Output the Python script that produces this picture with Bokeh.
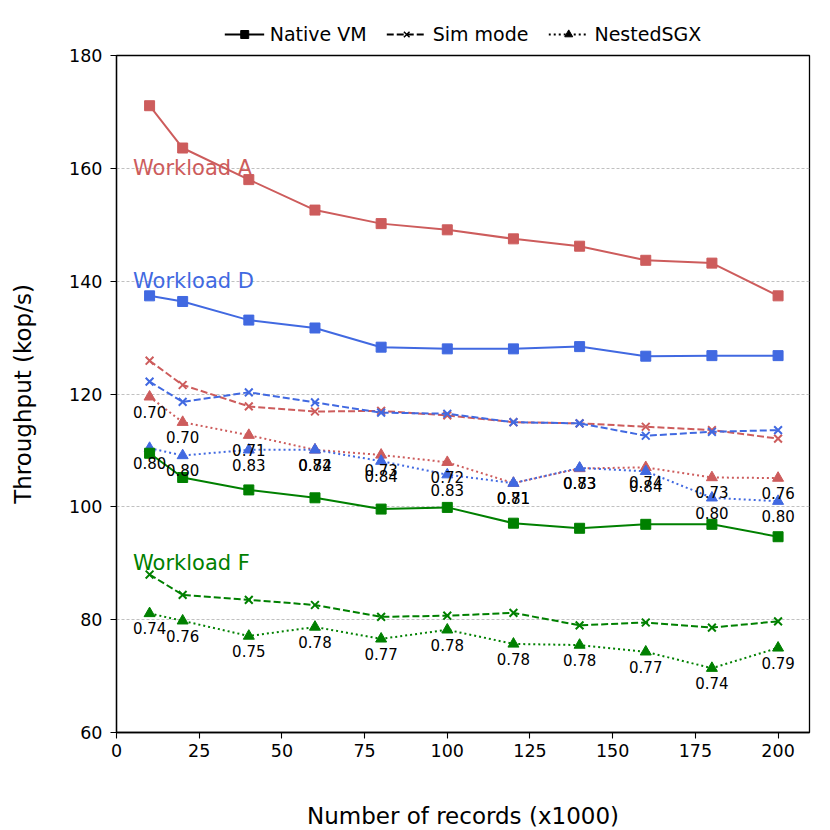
from bokeh.plotting import figure
from bokeh.models import Range1d, Legend, LegendItem, FixedTicker
from bokeh.layouts import column
from bokeh.core.properties import value
from bokeh.embed import file_html
from bokeh.resources import INLINE

records = [10, 20, 40, 60, 80, 100, 120, 140, 160, 180, 200]

a_native = [171.1, 163.6, 158.0, 152.6, 150.2, 149.1, 147.5, 146.2, 143.7, 143.2, 137.4]
a_sim = [125.9, 121.6, 117.8, 116.9, 117.0, 116.2, 115.0, 114.8, 114.2, 113.6, 112.1]
a_nested = [119.5, 115.0, 112.7, 110.1, 109.2, 107.9, 104.2, 106.8, 107.0, 105.2, 105.1]
a_labels = ["0.70", "0.70", "0.71", "0.72", "0.73", "0.72", "0.71", "0.73", "0.74", "0.73", "0.76"]

d_native = [137.4, 136.4, 133.1, 131.7, 128.3, 128.0, 128.0, 128.4, 126.7, 126.8, 126.8]
d_sim = [122.2, 118.6, 120.3, 118.5, 116.7, 116.5, 115.0, 114.8, 112.6, 113.3, 113.6]
d_nested = [110.4, 109.1, 110.1, 110.1, 108.1, 105.7, 104.2, 106.9, 106.3, 101.6, 101.0]
d_labels = ["0.80", "0.80", "0.83", "0.84", "0.84", "0.83", "0.81", "0.83", "0.84", "0.80", "0.80"]

f_native = [109.5, 105.2, 103.0, 101.6, 99.6, 99.9, 97.1, 96.2, 96.9, 96.9, 94.7]
f_sim = [88.0, 84.4, 83.5, 82.6, 80.5, 80.7, 81.2, 79.0, 79.5, 78.6, 79.7]
f_nested = [81.1, 79.8, 77.1, 78.7, 76.6, 78.2, 75.7, 75.5, 74.3, 71.4, 75.0]
f_labels = ["0.74", "0.76", "0.75", "0.78", "0.77", "0.78", "0.78", "0.78", "0.77", "0.74", "0.79"]

workload_names = ["Workload A", "Workload D", "Workload F"]
workload_label_y = [160, 140, 90]
colors = ["#CD5C5C", "#4169E1", "#008000"]

legend_names = ["Native VM", "Sim mode", "NestedSGX"]

x_ticks = [0, 25, 50, 75, 100, 125, 150, 175, 200]
y_ticks = [60, 80, 100, 120, 140, 160, 180]

FONT = "DejaVu Sans"
NAN = float("nan")

# ---------------- main plot ----------------
p = figure(frame_width=693, frame_height=677, output_backend="svg", toolbar_location=None,
           x_range=Range1d(0, 209.5), y_range=Range1d(60, 180),
           min_border_left=116, min_border_right=21, min_border_top=10,
           min_border_bottom=98)

p.background_fill_color = "white"
p.border_fill_color = "white"
p.outline_line_color = "black"
p.outline_line_width = 1.3
p.outline_line_alpha = 1.0

p.xgrid.visible = False
p.ygrid.ticker = FixedTicker(ticks=y_ticks)
p.ygrid.grid_line_color = "#b0b0b0"
p.ygrid.grid_line_dash = "3 2"
p.ygrid.grid_line_width = 0.8

p.xaxis.ticker = FixedTicker(ticks=x_ticks)
p.yaxis.ticker = FixedTicker(ticks=y_ticks)
for ax in (p.xaxis, p.yaxis):
    ax.axis_line_color = "black"
    ax.axis_line_width = 1.3
    ax.major_tick_line_color = "black"
    ax.major_tick_line_width = 1.1
    ax.major_tick_out = 6
    ax.major_tick_in = 0
    ax.minor_tick_out = 0
    ax.minor_tick_in = 0
    ax.major_label_text_font = FONT
    ax.major_label_text_font_size = "17.5px"
    ax.major_label_text_color = "black"
    ax.axis_label_text_font = FONT
    ax.axis_label_text_font_size = "23px"
    ax.axis_label_text_font_style = "normal"
    ax.axis_label_text_color = "black"

p.xaxis.axis_label = "Number of records (x1000)"
p.yaxis.axis_label = "Throughput (kop/s)"
p.xaxis.major_label_standoff = 5
p.yaxis.major_label_standoff = 8
p.xaxis.axis_label_standoff = 43
p.yaxis.axis_label_standoff = 30

series = [
    (a_native, a_sim, a_nested, a_labels, colors[0]),
    (d_native, d_sim, d_nested, d_labels, colors[1]),
    (f_native, f_sim, f_nested, f_labels, colors[2]),
]

for native, sim, nested, labels, col in series:
    p.line(records, native, line_color=col, line_width=2)
    p.scatter(records, native, marker="square", size=10, fill_color=col, line_color=col)
    p.line(records, sim, line_color=col, line_width=2, line_dash="7 3")
    p.scatter(records, sim, marker="x", size=11, line_color=col, line_width=2)
    p.line(records, nested, line_color=col, line_width=2, line_dash="2 3")
    p.scatter(records, nested, marker="triangle", size=11, fill_color=col, line_color=col)

for native, sim, nested, labels, col in series:
    p.text(records, nested, text=labels, text_align="center", text_baseline="middle",
           y_offset=15, text_font=value(FONT), text_font_size="15px", text_color="black")

p.text([5] * len(workload_names), workload_label_y, text=workload_names,
       text_align="left", text_baseline="alphabetic", text_font=value(FONT),
       text_font_size="21px", text_color=colors)

# ---------------- legend strip above the plot ----------------
lg = figure(frame_width=693, frame_height=22, output_backend="svg", toolbar_location=None,
            x_range=Range1d(0, 1), y_range=Range1d(0, 1),
            min_border_left=116, min_border_right=21, min_border_top=23,
            min_border_bottom=0)
lg.axis.visible = False
lg.grid.visible = False
lg.outline_line_color = None
lg.background_fill_color = "white"
lg.border_fill_color = "white"

l1 = lg.line([NAN], [NAN], line_color="black", line_width=2)
m1 = lg.scatter([NAN], [NAN], marker="square", size=8, fill_color="black", line_color="black")
l2 = lg.line([NAN], [NAN], line_color="black", line_width=2, line_dash="7 3")
m2 = lg.scatter([NAN], [NAN], marker="x", size=9, line_color="black", line_width=1.5)
l3 = lg.line([NAN], [NAN], line_color="black", line_width=2, line_dash="2 3")
m3 = lg.scatter([NAN], [NAN], marker="triangle", size=9, fill_color="black", line_color="black")

legend = Legend(items=[
    LegendItem(label=legend_names[0], renderers=[l1, m1]),
    LegendItem(label=legend_names[1], renderers=[l2, m2]),
    LegendItem(label=legend_names[2], renderers=[l3, m3]),
], location="center", orientation="horizontal",
    border_line_alpha=0, background_fill_alpha=0,
    glyph_width=40, glyph_height=20, label_standoff=6, spacing=20,
    padding=0, margin=0, label_text_font=FONT, label_text_font_size="19px",
    label_text_color="black")
lg.add_layout(legend, "center")

layout = column(lg, p, spacing=0)

open("out.html", "w").write(file_html(layout, INLINE))
